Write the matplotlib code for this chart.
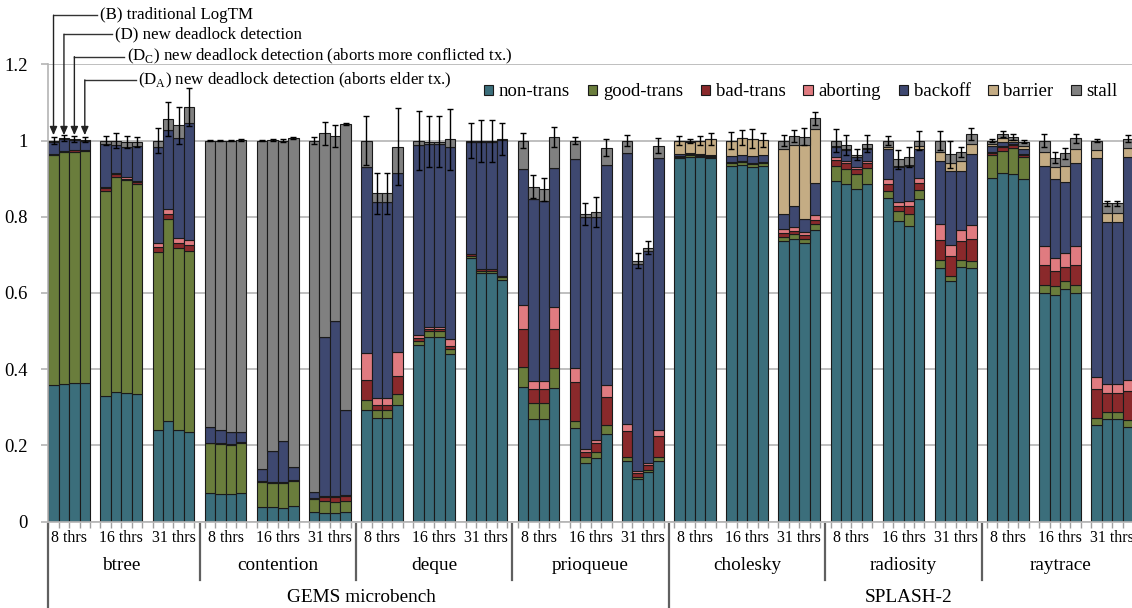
import numpy as np
import matplotlib.pyplot as plt
from matplotlib.patches import Patch

plt.rcParams['font.family'] = ['Liberation Serif', 'DejaVu Serif']
plt.rcParams['mathtext.fontset'] = 'custom'
plt.rcParams['mathtext.rm'] = 'Liberation Serif'

benchmarks = ["btree", "contention", "deque", "prioqueue", "cholesky", "radiosity", "raytrace"]
suites = ["GEMS microbench", "SPLASH-2"]
threads = ["8 thrs", "16 thrs", "31 thrs"]
series_names = ["non-trans", "good-trans", "bad-trans", "aborting", "backoff", "barrier", "stall"]
colors = ["#3b6e7b", "#6a7d3c", "#8a292b", "#e07b80", "#3e4870", "#c4ac84", "#808080"]
notes = ["(B) traditional LogTM",
         "(D) new deadlock detection",
         r"(D$_{\mathrm{C}}$) new deadlock detection (aborts more conflicted tx.)",
         r"(D$_{\mathrm{A}}$) new deadlock detection (aborts elder tx.)"]

# 12 bars per benchmark: 8 thrs (B, D, DC, DA), 16 thrs (...), 31 thrs (...)
non_trans = [.358, .361, .363, .363, .329, .339, .336, .334, .240, .263, .240, .234,
             .076, .073, .072, .076, .039, .037, .035, .040, .024, .021, .021, .024,
             .293, .271, .271, .306, .462, .485, .485, .440, .691, .653, .653, .634,
             .354, .268, .268, .351, .245, .153, .166, .230, .160, .111, .129, .160,
             .953, .958, .956, .953, .933, .937, .931, .934, .735, .741, .732, .765,
             .893, .885, .872, .885, .848, .789, .776, .846, .665, .631, .667, .665,
             .901, .916, .911, .898, .600, .594, .610, .600, .253, .269, .269, .249]
good_trans = [.603, .608, .608, .610, .539, .566, .560, .551, .468, .530, .477, .477,
              .129, .130, .129, .131, .065, .063, .065, .065, .034, .033, .031, .031,
              .027, .022, .022, .028, .012, .014, .014, .012, .006, .005, .005, .007,
              .051, .042, .042, .051, .020, .015, .016, .022, .010, .007, .006, .010,
              .004, .004, .003, .004, .007, .007, .007, .007, .011, .013, .010, .015,
              .041, .041, .039, .042, .020, .027, .030, .024, .021, .013, .019, .019,
              .060, .057, .070, .058, .022, .023, .022, .022, .018, .018, .018, .018]
bad_trans = [.003, .003, .003, .003, .007, .006, .004, .006, .013, .013, .015, .015,
             .002, .002, .002, .002, .003, .003, .003, .003, .004, .011, .011, .012,
             .051, .013, .013, .048, .007, .006, .006, .009, .004, .004, .004, .003,
             .099, .037, .037, .102, .100, .014, .025, .076, .068, .010, .013, .054,
             .002, .002, .002, .003, .003, .003, .004, .003, .010, .009, .010, .011,
             .015, .014, .014, .014, .018, .013, .022, .018, .053, .054, .050, .057,
             .007, .009, .007, .006, .051, .040, .037, .051, .077, .049, .049, .075]
aborting = [0, 0, 0, 0, .003, .003, .005, .004, .011, .015, .011, .012,
            0, 0, 0, 0, 0, 0, 0, 0, 0, .003, .003, .003,
            .072, .017, .017, .064, .008, .006, .006, .017, 0, 0, 0, 0,
            .063, .023, .023, .060, .037, .007, .007, .029, .018, .005, .005, .016,
            0, 0, 0, 0, 0, 0, 0, 0, .013, .011, .009, .013,
            .007, .007, .005, .006, .012, .010, .013, .013, .041, .029, .029, .037,
            .003, .003, .003, .003, .050, .035, .037, .050, .032, .024, .024, .029]
backoff = [.033, .031, .027, .024, .113, .074, .079, .091, .250, .207, .263, .307,
           .040, .035, .031, .025, .030, .083, .107, .034, .016, .417, .461, .223,
           .487, .515, .515, .470, .498, .480, .480, .504, .296, .335, .335, .357,
           .358, .477, .472, .363, .549, .609, .586, .579, .710, .543, .557, .713,
           .005, .004, .004, .002, .016, .016, .018, .018, .039, .055, .033, .085,
           .026, .028, .026, .030, .081, .091, .092, .078, .167, .193, .155, .186,
           .014, .012, .006, .014, .210, .206, .184, .217, .573, .427, .427, .586]
barrier = [0] * 48 + \
          [.036, .029, .034, .042, .039, .044, .045, .039, .169, .158, .194, .140,
           .003, .002, .002, .003, .003, .003, .004, .006, .024, .022, .026, .026,
           .007, .009, .004, .006, .038, .033, .044, .037, .022, .022, .022, .023]
stall = [.003, .003, .003, .002, .009, .012, .013, .009, .018, .028, .034, .042,
         .753, .760, .766, .768, .863, .815, .790, .864, .922, .534, .485, .750,
         .070, .023, .023, .068, .013, .006, .006, .021, .003, .002, .002, .004,
         .075, .032, .030, .083, .049, .009, .013, .045, .034, .009, .009, .033,
         0, .002, .001, 0, .002, 0, 0, 0, .023, .024, .022, .029,
         .015, .011, .005, .012, .018, .018, .020, .015, .029, .022, .024, .027,
         .008, .011, .009, .012, .029, .024, .032, .029, .025, .026, .026, .025]
err = [.008, .008, .007, .006, .012, .020, .016, .013, .034, .045, .049, .050,
       .002, .002, .002, .002, .002, .003, .003, .002, .010, .030, .028, .003,
       .063, .054, .054, .100, .078, .066, .066, .080, .047, .056, .056, .042,
       .020, .030, .030, .026, .010, .030, .040, .022, .014, .020, .018, .020,
       .012, .006, .013, .015, .023, .020, .025, .018, .015, .016, .023, .018,
       .030, .027, .015, .023, .013, .025, .027, .026, .025, .035, .012, .015,
       .003, .008, .008, .004, .016, .014, .014, .012, .005, .007, .007, .010]

W, H = 1132, 608
fig = plt.figure(figsize=(W / 100, H / 100), dpi=100)
# one x unit = one bar; each thread group = 4 bars + 1 empty slot
unit = 10.43
x0_px, y0_px, ytop_px = 48.3, 521.5, 64.3
nunits = 105
ax = fig.add_axes([x0_px / W, (H - y0_px) / H, nunits * unit / W, (y0_px - ytop_px) / H])

data = [non_trans, good_trans, bad_trans, aborting, backoff, barrier, stall]
ngroups = len(benchmarks) * len(threads)
pos = np.array([g * 5 + v for g in range(ngroups) for v in range(4)]) + 0.5
bottom = np.zeros(len(pos))
for name, vals, c in zip(series_names, data, colors):
    vals = np.array(vals)
    ax.bar(pos, vals, width=1.0, bottom=bottom, color=c, edgecolor='#1a1a1a',
           linewidth=0.8, label=name, zorder=2)
    bottom += vals
ax.errorbar(pos, bottom, yerr=err, fmt='none', ecolor='black', elinewidth=1,
            capsize=2.5, capthick=1, zorder=3)

ax.set_xlim(0, nunits)
ax.set_ylim(0, 1.2)
ax.set_yticks(np.arange(0, 1.21, 0.2))
ax.set_yticklabels(["0", "0.2", "0.4", "0.6", "0.8", "1", "1.2"], fontsize=13.5)
ax.yaxis.grid(True, color='#b4b4b4', linewidth=1.2)
ax.set_axisbelow(True)
for s in ['top', 'right']:
    ax.spines[s].set_visible(False)
for s in ['left', 'bottom']:
    ax.spines[s].set_color('#b4b4b4')
    ax.spines[s].set_linewidth(1.2)
ax.tick_params(axis='y', length=5, color='#b4b4b4', width=1.2, pad=10)
ax.set_xticks(np.arange(0, nunits + 1), minor=True)
ax.set_xticks([])
ax.tick_params(axis='x', which='minor', length=4, color='#a0a0a0', width=1)

tr = ax.get_xaxis_transform()
def yax(px):
    return -(px - y0_px) / (y0_px - ytop_px)

for g in range(ngroups):
    ax.text(g * 5 + 2, yax(538.5), threads[g % 3], ha='center', va='center',
            fontsize=11.4, transform=tr)
for b, name in enumerate(benchmarks):
    ax.text(b * 15 + 7, yax(565), name, ha='center', va='center', fontsize=13.9, transform=tr)
ax.text(30, yax(597), suites[0], ha='center', va='center', fontsize=13.9, transform=tr)
ax.text(82.5, yax(597), suites[1], ha='center', va='center', fontsize=13.9, transform=tr)

sep_kw = dict(color='#606060', linewidth=1.6, transform=tr, clip_on=False)
ax.plot([-0.06, -0.06], [yax(524), yax(608)], **sep_kw)
for b in range(1, len(benchmarks) + 1):
    xb = b * 15 - 0.5
    lower = 608 if b == 4 else 580
    ax.plot([xb, xb], [yax(524), yax(lower)], **sep_kw)

# pointer notes for the four variants
line_y = [1.329, 1.279, 1.220, 1.159]
text_x = [4.96, 6.39, 7.55, 8.60]
line_end = [4.64, 6.08, 7.26, 8.41]
for v in range(4):
    cx = pos[v]
    ax.plot([cx, line_end[v]], [line_y[v], line_y[v]], color='#333333', lw=1,
            clip_on=False, zorder=4)
    ax.annotate('', xy=(cx, 1.014), xytext=(cx, line_y[v]),
                arrowprops=dict(arrowstyle='-|>,head_length=0.5,head_width=0.22',
                                color='#222222', lw=1, shrinkA=0, shrinkB=0),
                annotation_clip=False, zorder=4)
    ax.text(text_x[v], line_y[v], notes[v], ha='left', va='center', fontsize=12.2,
            clip_on=False)

handles = [Patch(facecolor=c, edgecolor='#1a1a1a', linewidth=0.8) for c in colors]
fig.legend(handles, series_names, loc='center left',
           bbox_to_anchor=(484 / W, 1 - 92 / H), bbox_transform=fig.transFigure,
           ncol=7, frameon=False, fontsize=13.5, borderpad=0, borderaxespad=0,
           handlelength=0.5, handleheight=0.5, handletextpad=0.3, columnspacing=0.95)

fig.savefig('out.png', dpi=100)
